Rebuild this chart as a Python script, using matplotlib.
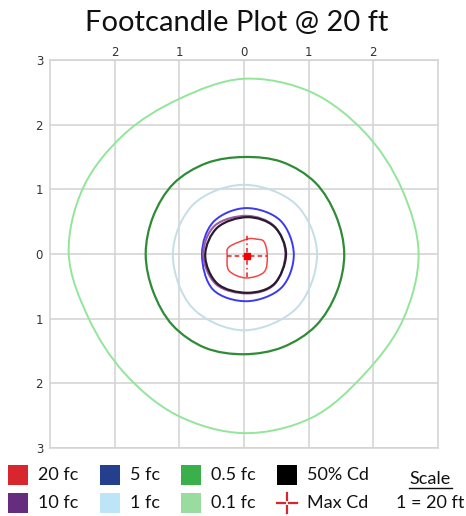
import numpy as np
import matplotlib
matplotlib.use("Agg")
import matplotlib.pyplot as plt
from matplotlib.path import Path
from matplotlib.patches import PathPatch, Rectangle
from matplotlib.lines import Line2D

# ---------------- data (units of 20 ft) ----------------
# large contours: radius read at every 22.5 degrees (counter-clockwise from +x)
angles16 = [0, 22.5, 45, 67.5, 90, 112.5, 135, 157.5,
            180, 202.5, 225, 247.5, 270, 292.5, 315, 337.5]
fc01_r = [2.70, 2.64, 2.65, 2.71, 2.71, 2.60, 2.62, 2.69,
          2.71, 2.60, 2.61, 2.70, 2.77, 2.74, 2.63, 2.66]
fc05_r = [1.55, 1.54, 1.56, 1.54, 1.50, 1.52, 1.54, 1.52,
          1.52, 1.52, 1.56, 1.57, 1.55, 1.56, 1.57, 1.55]

# small contours: points read around the centre
fc1_x = [1.13, 0.80, 0.00, -0.78, -1.10, -0.80, 0.00, 0.82]
fc1_y = [0.00, 0.77, 1.07, 0.77, 0.00, -0.83, -1.18, -0.83]

fc5_x = [0.77, 0.56, 0.03, -0.47, -0.65, -0.48, 0.05, 0.58]
fc5_y = [0.00, 0.52, 0.71, 0.50, 0.00, -0.55, -0.73, -0.52]

fc10_x = [0.64, 0.47, 0.04, -0.45, -0.63, -0.43, 0.05, 0.47]
fc10_y = [0.00, 0.43, 0.59, 0.44, -0.01, -0.47, -0.61, -0.47]

cd50_x = [0.65, 0.47, 0.05, -0.41, -0.60, -0.41, 0.05, 0.47]
cd50_y = [0.00, 0.42, 0.57, 0.41, -0.02, -0.46, -0.60, -0.46]

fc20_x = [0.36, 0.31, 0.19, 0.05, -0.23, -0.26, -0.23, 0.03, 0.31]
fc20_y = [-0.03, 0.19, 0.23, 0.23, 0.11, -0.03, -0.26, -0.37, -0.28]

max_x, max_y = 0.04, -0.03
cross_h = [-0.26, 0.36]
cross_v = [-0.36, 0.31]

tick_vals_x = [-2, -1, 0, 1, 2]
tick_vals_y = [-3, -2, -1, 0, 1, 2, 3]

legend_labels = ["20 fc", "10 fc", "5 fc", "1 fc", "0.5 fc", "0.1 fc", "50% Cd", "Max Cd"]
legend_colors = ["#D7262E", "#662D7E", "#233F8E", "#BDE4F7", "#3AB04A", "#9ADBA0", "#000000", "#D7262E"]

# ---------------- figure ----------------
W, H = 466, 516
fig = plt.figure(figsize=(W / 100, H / 100), dpi=100)
ax = fig.add_axes([50 / W, 1 - 448 / H, 388 / W, 388 / H])
ax.set_xlim(-3, 3)
ax.set_ylim(-3, 3)
ax.set_aspect("equal", adjustable="box")


def smooth_closed(xs, ys):
    pts = list(zip(xs, ys))
    n = len(pts)
    verts = [pts[0]]
    codes = [Path.MOVETO]
    for i in range(n):
        p0 = pts[(i - 1) % n]
        p1 = pts[i]
        p2 = pts[(i + 1) % n]
        p3 = pts[(i + 2) % n]
        c1 = (p1[0] + (p2[0] - p0[0]) / 6, p1[1] + (p2[1] - p0[1]) / 6)
        c2 = (p2[0] - (p3[0] - p1[0]) / 6, p2[1] - (p3[1] - p1[1]) / 6)
        verts += [c1, c2, p2]
        codes += [Path.CURVE4] * 3
    return Path(verts, codes)


def contour(xs, ys, color, lw, z):
    ax.add_patch(PathPatch(smooth_closed(xs, ys), fill=False, edgecolor=color,
                           lw=lw, zorder=z, joinstyle="round"))


def polar_contour(angs, rs, color, lw, z):
    t = np.radians(angs)
    r = np.asarray(rs)
    contour(r * np.cos(t), r * np.sin(t), color, lw, z)


polar_contour(angles16, fc01_r, "#92E69A", 1.4, 3)
polar_contour(angles16, fc05_r, "#2E8B36", 1.6, 3)
contour(fc1_x, fc1_y, "#C3DEE8", 1.4, 3)
contour(fc5_x, fc5_y, "#3A3AF0", 1.4, 4)
contour(fc10_x, fc10_y, "#9A5AA8", 1.5, 4)
contour(cd50_x, cd50_y, "#2A1A2E", 1.6, 5)
contour(fc20_x, fc20_y, "#F04848", 1.1, 5)

ax.plot(cross_h, [max_y, max_y], color="#F01818", lw=1.1, ls=(0, (3, 2)), zorder=6)
ax.plot([max_x, max_x], cross_v, color="#F01818", lw=1.1, ls=(0, (3, 2, 1, 2)), zorder=6)
ax.plot([max_x], [max_y], marker="s", ms=4, color="#F00000", zorder=7)

ax.set_xticks(tick_vals_x)
ax.set_xticklabels([str(abs(v)) for v in tick_vals_x])
ax.set_yticks(tick_vals_y)
ax.set_yticklabels([str(abs(v)) for v in tick_vals_y])
ax.xaxis.tick_top()
ax.tick_params(length=0, labelsize=8.5, labelcolor="#333333")
ax.tick_params(axis="x", pad=1)
ax.tick_params(axis="y", pad=5)
ax.grid(True, color="#D2D2D2", lw=1.1)
ax.set_axisbelow(True)
for s in ax.spines.values():
    s.set_color("#D2D2D2")
    s.set_linewidth(1.1)

# ---------------- title ----------------
fig.text(237 / W, 1 - 23 / H, "Footcandle Plot @ 20 ft", ha="center", va="center",
         fontsize=21, family="Lato", color="#111111")

# ---------------- legend ----------------
def fx(px):
    return px / W


def fy(py):
    return 1 - py / H


col_sw = [8, 8, 100, 100, 181, 181, 277, 277]
row_y = [475, 503, 475, 503, 475, 503, 475, 503]
for i, lab in enumerate(legend_labels):
    sx, sy = col_sw[i], row_y[i]
    if lab == "Max Cd":
        c = legend_colors[i]
        fig.add_artist(Line2D([fx(sx), fx(sx + 8)], [fy(sy), fy(sy)], color=c, lw=1.6))
        fig.add_artist(Line2D([fx(sx + 12), fx(sx + 20)], [fy(sy), fy(sy)], color=c, lw=1.6))
        fig.add_artist(Line2D([fx(sx + 10), fx(sx + 10)], [fy(sy - 10), fy(sy - 3)], color=c, lw=1.6))
        fig.add_artist(Line2D([fx(sx + 10), fx(sx + 10)], [fy(sy + 3), fy(sy + 10)], color=c, lw=1.6))
    else:
        fig.add_artist(Rectangle((fx(sx), fy(sy + 10)), 20 / W, 20 / H,
                                 facecolor=legend_colors[i], edgecolor="none",
                                 transform=fig.transFigure))
    fig.text(fx(sx + 30), fy(sy), lab, ha="left", va="center", fontsize=13,
             family="Lato", color="#111111")

fig.text(fx(430), fy(479), "Scale", ha="center", va="center", fontsize=13,
         family="Lato", color="#111111")
fig.add_artist(Line2D([fx(409), fx(452)], [fy(488), fy(488)], color="#111111", lw=1.0))
fig.text(fx(430), fy(503), "1 = 20 ft", ha="center", va="center", fontsize=13,
         family="Lato", color="#111111")

fig.savefig("out.png", dpi=100, facecolor="white")
